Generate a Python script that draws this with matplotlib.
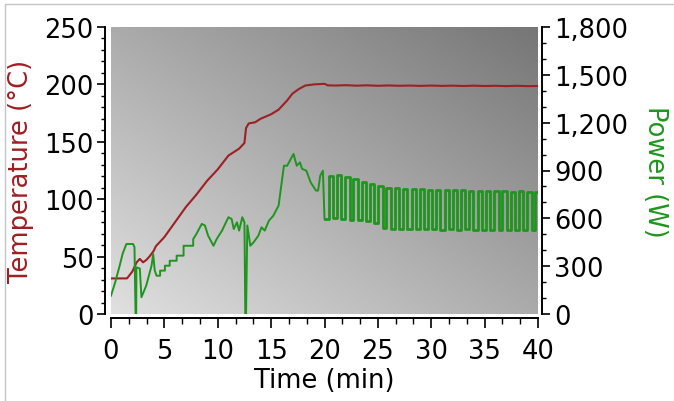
import numpy as np
import matplotlib
matplotlib.use("Agg")
import matplotlib.pyplot as plt
from matplotlib.ticker import MultipleLocator, AutoMinorLocator, StrMethodFormatter
from matplotlib.colors import LinearSegmentedColormap
from matplotlib.patches import Rectangle

# ====== DATA ======
temp_time = [0.0, 1.5, 2.0, 2.4, 2.7, 3.0, 3.3, 3.6, 4.0, 4.2, 5.0, 6.0, 7.0, 8.0,
             9.0, 10.0, 11.0, 12.0, 12.5, 12.65, 12.9, 13.5, 14.0, 15.0, 15.7,
             16.5, 17.0, 17.6, 18.2, 19.0, 20.0, 20.3, 21.0, 22.0, 23.0, 24.0,
             25.0, 26.0, 27.0, 28.0, 29.0, 30.0, 31.0, 32.0, 33.0, 34.0, 35.0,
             36.0, 37.0, 38.0, 39.0, 40.0]
temp_val = [31, 31, 37, 45, 48, 45, 47, 50, 55, 59, 67, 80, 93, 104,
            116, 126, 138, 144, 149, 162, 166, 167, 170, 174, 178,
            186, 192, 196, 199, 200, 200.5, 199.2, 199.0, 199.3, 198.9, 199.2,
            198.8, 199.1, 198.8, 199.0, 198.7, 199.0, 198.7, 198.9, 198.6, 198.9, 198.6,
            198.8, 198.5, 198.8, 198.5, 198.6]

# power ramp-up part (0-20 min)
power_time = [0.0, 0.4, 0.8, 1.1, 1.44, 2.07, 2.2, 2.3, 2.36, 2.38, 2.7, 2.85, 3.3,
              3.8, 3.95, 4.1, 4.27, 4.6, 4.6, 5.05, 5.05, 5.5, 5.5, 6.15, 6.15,
              6.8, 6.8, 7.7, 7.7, 8.0, 8.5, 8.8, 9.1, 9.6, 9.9, 10.4, 11.0, 11.3,
              11.5, 11.8, 12.0, 12.3, 12.5, 12.58, 12.65, 12.77, 13.05, 13.35,
              13.8, 14.1, 14.4, 14.8, 15.2, 15.7, 16.2, 16.5, 17.1, 17.4, 17.7,
              17.9, 18.3, 18.7, 19.2, 19.4, 19.6, 19.85, 20.0]
power_val = [115, 200, 300, 380, 439, 439, 420, 0, 0, 293, 285, 105, 178,
             303, 376, 272, 240, 240, 272, 272, 303, 303, 334, 334, 366,
             366, 428, 428, 470, 502, 565, 555, 491, 428, 470, 523, 607, 596,
             533, 575, 523, 607, 575, 0, 0, 555, 428, 449,
             491, 544, 523, 586, 616, 680, 930, 930, 1004, 930, 951,
             910, 899, 826, 774, 774, 868, 899, 598]

# power on/off regulation part (20-40 min)
osc_time = [20.00, 20.40, 20.80, 21.15, 21.55, 21.95, 22.35, 22.70, 23.10, 23.50,
            23.90, 24.25, 24.65, 25.05, 25.45, 25.80, 26.20, 26.60, 27.00, 27.35,
            27.75, 28.15, 28.55, 28.90, 29.30, 29.70, 30.10, 30.45, 30.85, 31.25,
            31.65, 32.00, 32.40, 32.80, 33.20, 33.55, 33.95, 34.35, 34.75, 35.10,
            35.50, 35.90, 36.30, 36.65, 37.05, 37.45, 37.85, 38.20, 38.60, 39.00,
            39.40, 39.75, 40.00]
osc_val = [598, 868, 600, 870, 596, 858, 592, 845, 588, 830,
           584, 815, 570, 800, 537, 790, 535, 788, 533, 785,
           532, 782, 533, 784, 530, 780, 530, 778, 528, 780,
           530, 776, 528, 775, 530, 772, 528, 772, 528, 770,
           528, 772, 526, 770, 528, 768, 526, 770, 526, 768,
           526, 766, 766]

x_ticks = [0, 5, 10, 15, 20, 25, 30, 35, 40]

TEMP_COLOR = "#9e1f24"
POWER_COLOR = "#1f951f"

plt.rcParams["font.family"] = "DejaVu Sans"
plt.rcParams["font.size"] = 18.5

fig = plt.figure(figsize=(6.74, 4.02), dpi=100)
ax = fig.add_axes([111 / 674, 1 - 315 / 402, 427 / 674, 287 / 402])
ax2 = ax.twinx()

# gradient background (light bottom-left -> dark top-right)
bg_cmap = LinearSegmentedColormap.from_list("bg", ["#e0e0e0", "#767676"])
gx, gy = np.meshgrid(np.linspace(0, 1, 200), np.linspace(0, 1, 200))
ax.imshow((gx + gy) / 2, extent=[0, 1, 0, 1], transform=ax.transAxes, origin="lower",
          cmap=bg_cmap, vmin=0, vmax=1, aspect="auto", zorder=0,
          interpolation="bilinear")

ax.plot(temp_time, temp_val, color=TEMP_COLOR, lw=1.5, zorder=3)
ax2.plot(power_time, power_val, color=POWER_COLOR, lw=1.4, zorder=3)
ax2.plot(osc_time, osc_val, color=POWER_COLOR, lw=2.0, drawstyle="steps-post", zorder=3)

ax.set_xlim(0, 40)
ax.set_ylim(0, 250)
ax2.set_ylim(0, 1800)

ax.set_xticks(x_ticks)
ax.xaxis.set_minor_locator(AutoMinorLocator(3))
ax.yaxis.set_major_locator(MultipleLocator(50))
ax.yaxis.set_minor_locator(MultipleLocator(10))
ax2.yaxis.set_major_locator(MultipleLocator(300))
ax2.yaxis.set_minor_locator(MultipleLocator(100))
ax2.yaxis.set_major_formatter(StrMethodFormatter("{x:,.0f}"))

for a in (ax, ax2):
    a.tick_params(which="major", length=5.5, width=1.2, direction="out", pad=3)
    a.tick_params(which="minor", length=3, width=1.0, direction="out")
    a.spines["top"].set_visible(False)
    for s in a.spines.values():
        s.set_linewidth(1.4)
ax.tick_params(axis="x", which="major", length=7.5, pad=7)
ax.tick_params(axis="x", which="minor", length=4)

ax.spines["right"].set_visible(False)
ax2.spines["left"].set_visible(False)
ax2.spines["bottom"].set_visible(False)
ax.spines["left"].set_position(("outward", 4))
ax.spines["bottom"].set_position(("outward", 3))
ax2.spines["right"].set_position(("outward", 3))

ax.set_xlabel("Time (min)", labelpad=2)
ax.set_ylabel("Temperature (°C)", color=TEMP_COLOR, labelpad=7)
ax2.set_ylabel("Power (W)", color=POWER_COLOR, rotation=270, labelpad=29)

# thin frame around the figure
fig.patches.append(Rectangle((5 / 674, -0.05), 1.2, 1 - 5 / 402 + 0.05,
                             transform=fig.transFigure, fill=False,
                             edgecolor="#c4c4c4", lw=1.0))

fig.savefig("out.png", dpi=100)
